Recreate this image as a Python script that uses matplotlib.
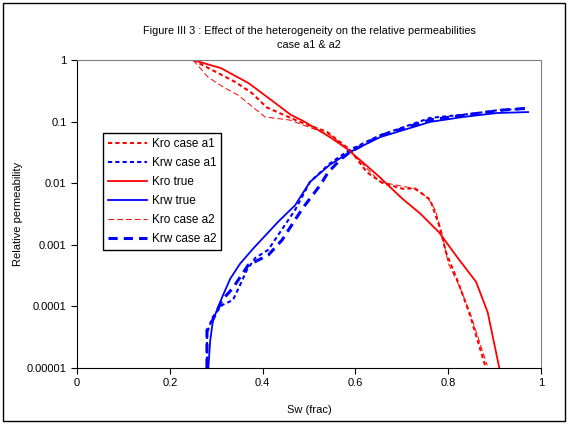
import numpy as np
import matplotlib
matplotlib.use("Agg")
import matplotlib.pyplot as plt
from matplotlib.patches import Rectangle

plt.rcParams['font.family'] = ['Liberation Sans', 'DejaVu Sans']

# Kro true
sw_kro_true = [0.25, 0.31, 0.37, 0.42, 0.46, 0.49, 0.545, 0.58, 0.62, 0.65, 0.70, 0.74, 0.78, 0.82, 0.86, 0.885, 0.91]
kro_true = [1.0, 0.74, 0.42, 0.22, 0.13, 0.10, 0.056, 0.037, 0.0205, 0.013, 0.0057, 0.0032, 0.0016, 0.00062, 0.00025, 8e-5, 1e-5]

# Kro case a1
sw_kro_a1 = [0.25, 0.291, 0.341, 0.377, 0.409, 0.476, 0.539, 0.588, 0.625, 0.659, 0.703, 0.728, 0.761, 0.782, 0.795, 0.821, 0.847, 0.881]
kro_a1 = [1.0, 0.69, 0.44, 0.29, 0.17, 0.102, 0.068, 0.035, 0.015, 0.010, 0.0081, 0.0083, 0.0054, 0.0019, 0.00076, 0.00025, 7.2e-5, 1e-5]

# Kro case a2
sw_kro_a2 = [0.25, 0.282, 0.315, 0.347, 0.405, 0.459, 0.545, 0.582, 0.653, 0.724, 0.754, 0.772, 0.787, 0.80, 0.825, 0.847, 0.884]
kro_a2 = [1.0, 0.53, 0.365, 0.27, 0.119, 0.106, 0.061, 0.037, 0.0105, 0.0083, 0.006, 0.0037, 0.00145, 0.0005, 0.000206, 7.8e-5, 1.1e-5]

# Krw true
sw_krw_true = [0.283, 0.287, 0.293, 0.3125, 0.33, 0.351, 0.379, 0.433, 0.47, 0.502, 0.545, 0.588, 0.653, 0.761, 0.832, 0.905, 0.972]
krw_true = [1e-5, 2.8e-5, 6e-5, 1.4e-4, 2.8e-4, 4.9e-4, 8.6e-4, 2.35e-3, 4.4e-3, 0.0105, 0.02, 0.032, 0.056, 0.099, 0.119, 0.138, 0.143]

# Krw case a1
sw_krw_a1 = [0.280, 0.280, 0.291, 0.3125, 0.336, 0.351, 0.366, 0.384, 0.412, 0.4375, 0.47, 0.502, 0.545, 0.588, 0.653, 0.761, 0.847, 0.912, 0.955]
krw_a1 = [1e-5, 3.7e-5, 6.5e-5, 1.05e-4, 1.27e-4, 2.2e-4, 3.9e-4, 6.1e-4, 8.3e-4, 1.6e-3, 3.7e-3, 0.0105, 0.021, 0.035, 0.06, 0.115, 0.133, 0.155, 0.16]

# Krw case a2
sw_krw_a2 = [0.28, 0.28, 0.29, 0.3125, 0.336, 0.369, 0.412, 0.442, 0.459, 0.487, 0.524, 0.541, 0.567, 0.588, 0.653, 0.761, 0.869, 0.922, 0.976]
krw_a2 = [1e-5, 4.1e-5, 5.5e-5, 1.26e-4, 2e-4, 4.7e-4, 6.8e-4, 1.2e-3, 1.9e-3, 4e-3, 9.3e-3, 0.015, 0.024, 0.032, 0.059, 0.107, 0.138, 0.155, 0.166]

x_ticks = [0, 0.2, 0.4, 0.6, 0.8, 1]
x_labels = ['0', '0.2', '0.4', '0.6', '0.8', '1']
y_ticks = [1e-5, 1e-4, 1e-3, 1e-2, 1e-1, 1]
y_labels = ['0.00001', '0.0001', '0.001', '0.01', '0.1', '1']

fig = plt.figure(figsize=(5.68, 4.24), dpi=100)
ax = fig.add_axes([0.1356, 0.132, 0.817, 0.7264])

red = '#FF0000'
blue = '#0000FF'
ax.plot(sw_kro_a1, kro_a1, color=red, lw=1.5, linestyle=(0, (2, 1.5)), label='Kro case a1')
ax.plot(sw_krw_a1, krw_a1, color=blue, lw=1.5, linestyle=(0, (2, 1.5)), label='Krw case a1')
ax.plot(sw_kro_true, kro_true, color=red, lw=1.3, label='Kro true')
ax.plot(sw_krw_true, krw_true, color=blue, lw=1.3, label='Krw true')
ax.plot(sw_kro_a2, kro_a2, color=red, lw=0.7, linestyle=(0, (6, 3)), label='Kro case a2')
ax.plot(sw_krw_a2, krw_a2, color=blue, lw=2.2, linestyle=(0, (3, 2)), label='Krw case a2')

ax.set_yscale('log')
ax.set_xlim(0, 1)
ax.set_ylim(1e-5, 1)
ax.set_xticks(x_ticks)
ax.set_xticklabels(x_labels)
ax.set_yticks(y_ticks)
ax.set_yticklabels(y_labels)
ax.minorticks_off()
ax.tick_params(direction='out', length=4, width=0.8, labelsize=8, colors='black')

ax.spines['top'].set_color('#808080')
ax.spines['right'].set_color('#808080')
for s in ['left', 'bottom']:
    ax.spines[s].set_color('black')

ax.set_xlabel('Sw (frac)', fontsize=8, labelpad=12)
ax.set_ylabel('Relative permeability', fontsize=8, labelpad=3)
ax.set_title('Figure III 3 : Effect of the heterogeneity on the relative permeabilities\ncase a1 & a2',
             fontsize=7.8, pad=9, linespacing=1.45)

leg = ax.legend(loc='upper left', bbox_to_anchor=(0.056, 0.763), fontsize=8.5,
                fancybox=False, shadow=False, framealpha=1, edgecolor='black',
                handlelength=3.3, borderpad=0.4, labelspacing=0.6, handletextpad=0.45,
                borderaxespad=0)
leg.get_frame().set_linewidth(1.0)

fig.patches.append(Rectangle((0.006, 0.008), 0.988, 0.985, transform=fig.transFigure,
                             fill=False, edgecolor='black', lw=1))

fig.savefig('out.png', dpi=100)
